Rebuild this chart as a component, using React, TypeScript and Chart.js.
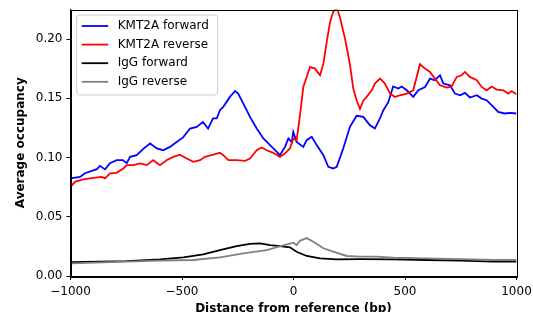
import React, { useEffect, useRef } from "react";
import { Chart, registerables } from "chart.js";

Chart.register(...registerables);

const xTicks = [-1000, -500, 0, 500, 1000];
const yTicks = [0, 0.05, 0.1, 0.15, 0.2];

const seriesLabels = ["KMT2A forward", "KMT2A reverse", "IgG forward", "IgG reverse"];
const seriesColors = ["#0000ff", "#ff0000", "#000000", "#808080"];

const kmtFwdPos = [-1000,-957,-935,-882,-868,-845,-823,-793,-765,-748,-733,-703,-675,-643,-613,-585,-554,-524,-495,-464,-434,-406,-383,-361,-344,-330,-315,-285,-262,-248,-225,-195,-165,-135,-105,-75,-61,-38,-23,-8,-1,14,44,59,82,104,134,156,178,194,223,253,283,313,343,365,388,403,425,447,470,485,508,537,560,590,612,634,657,672,702,724,747,769,791,822,844,866,896,918,948,971,1000];
const kmtFwdVal = [0.0824,0.0837,0.0868,0.0902,0.093,0.090,0.0953,0.0978,0.0978,0.0953,0.1006,0.102,0.1071,0.1119,0.1077,0.1062,0.109,0.1132,0.117,0.1245,0.1259,0.1301,0.1245,0.133,0.133,0.140,0.1428,0.1512,0.1562,0.154,0.1456,0.1343,0.1245,0.1161,0.1105,0.1048,0.102,0.109,0.1161,0.113,0.1217,0.1132,0.109,0.1147,0.1175,0.1105,0.102,0.0922,0.0908,0.0922,0.1077,0.126,0.1353,0.1343,0.1273,0.1245,0.1332,0.140,0.1467,0.160,0.1583,0.160,0.1568,0.1512,0.1568,0.1596,0.1667,0.1653,0.1695,0.1625,0.161,0.154,0.1526,0.1546,0.1507,0.1526,0.1498,0.1484,0.1428,0.1385,0.1372,0.1377,0.1372];

const kmtRevPos = [-1000,-980,-943,-898,-860,-845,-823,-793,-763,-748,-718,-688,-658,-629,-599,-569,-539,-509,-479,-449,-419,-397,-360,-330,-315,-292,-255,-217,-195,-165,-143,-120,-91,-61,-38,-16,-1,14,29,44,59,74,96,119,134,149,164,178,194,208,231,253,268,283,298,313,328,351,365,388,410,433,455,478,508,537,567,590,612,634,657,687,709,732,754,769,791,822,844,866,889,911,941,963,978,1000];
const kmtRevVal = [0.0753,0.0795,0.0815,0.0829,0.0837,0.0824,0.0866,0.0871,0.0908,0.0936,0.0936,0.095,0.0936,0.0978,0.0936,0.0978,0.1006,0.1024,0.0992,0.0964,0.0978,0.1006,0.1024,0.104,0.102,0.0978,0.0978,0.0972,0.0992,0.1062,0.1085,0.1062,0.104,0.1006,0.1035,0.1077,0.1161,0.1147,0.1357,0.1596,0.168,0.1765,0.1751,0.1695,0.1793,0.1976,0.2144,0.2229,0.2265,0.2186,0.2004,0.1788,0.1583,0.1484,0.141,0.148,0.1512,0.1568,0.1625,0.1667,0.1625,0.154,0.1512,0.1526,0.154,0.1568,0.1788,0.1751,0.1723,0.1667,0.161,0.1591,0.160,0.1681,0.1695,0.1723,0.1681,0.1653,0.1596,0.1568,0.160,0.1574,0.1568,0.154,0.1562,0.1535];

const iggFwdPos = [-1000,-748,-599,-494,-405,-330,-255,-195,-150,-105,-61,-16,14,59,119,194,298,447,597,747,896,1000];
const iggFwdVal = [0.0116,0.0126,0.0141,0.0158,0.0183,0.0219,0.0253,0.0272,0.0276,0.0261,0.0253,0.0242,0.0205,0.0169,0.0149,0.0141,0.0143,0.0141,0.0135,0.0129,0.0121,0.0121];

const iggRevPos = [-1000,-748,-599,-449,-330,-225,-120,-46,-1,14,29,59,89,134,178,239,298,373,447,597,747,896,1000];
const iggRevVal = [0.0107,0.0121,0.0129,0.0135,0.0158,0.0191,0.0219,0.0259,0.0281,0.0261,0.0298,0.032,0.0289,0.0234,0.0205,0.0169,0.0163,0.0163,0.0154,0.0149,0.0143,0.0135,0.0135];

const seriesPos = [kmtFwdPos, kmtRevPos, iggFwdPos, iggRevPos];
const seriesVal = [kmtFwdVal, kmtRevVal, iggFwdVal, iggRevVal];

const FONT = "'DejaVu Sans', 'Liberation Sans', sans-serif";

const framePlugin = {
  id: "frameAndLegend",
  afterDatasetsDraw(chart: any) {
    const { ctx, chartArea: ca } = chart;
    ctx.save();
    ctx.strokeStyle = "#000";
    ctx.lineWidth = 1;
    ctx.strokeRect(Math.round(ca.left) + 0.5, Math.round(ca.top) + 0.5, Math.round(ca.right - ca.left), Math.round(ca.bottom - ca.top));

    const lx = ca.left + 6.2;
    const ly = ca.top + 5.5;
    const lw = 141;
    const lh = 80;
    const r = 3;
    ctx.beginPath();
    ctx.moveTo(lx + r, ly);
    ctx.lineTo(lx + lw - r, ly);
    ctx.arcTo(lx + lw, ly, lx + lw, ly + r, r);
    ctx.lineTo(lx + lw, ly + lh - r);
    ctx.arcTo(lx + lw, ly + lh, lx + lw - r, ly + lh, r);
    ctx.lineTo(lx + r, ly + lh);
    ctx.arcTo(lx, ly + lh, lx, ly + lh - r, r);
    ctx.lineTo(lx, ly + r);
    ctx.arcTo(lx, ly, lx + r, ly, r);
    ctx.closePath();
    ctx.fillStyle = "rgba(255,255,255,0.8)";
    ctx.fill();
    ctx.strokeStyle = "#cccccc";
    ctx.lineWidth = 1;
    ctx.stroke();

    ctx.font = `12px ${FONT}`;
    ctx.textBaseline = "middle";
    ctx.textAlign = "left";
    seriesLabels.forEach((label, i) => {
      const y = ly + 11 + i * 18.6;
      ctx.strokeStyle = seriesColors[i];
      ctx.lineWidth = 1.8;
      ctx.beginPath();
      ctx.moveTo(lx + 5, y);
      ctx.lineTo(lx + 31.5, y);
      ctx.stroke();
      ctx.fillStyle = "#000";
      ctx.fillText(label, lx + 41, y);
    });
    ctx.restore();
  },
};

function fmtX(v: number) {
  return v < 0 ? "\u2212" + Math.abs(v) : String(v);
}

export default function App() {
  const ref = useRef<HTMLCanvasElement | null>(null);
  useEffect(() => {
    if (!ref.current) return;
    Chart.defaults.font.family = FONT;
    Chart.defaults.font.size = 12;
    Chart.defaults.color = "#000";
    const datasets = seriesLabels.map((label, i) => ({
      label,
      data: seriesPos[i].map((x, j) => ({ x, y: seriesVal[i][j] })),
      borderColor: seriesColors[i],
      backgroundColor: seriesColors[i],
      borderWidth: 1.8,
      pointRadius: 0,
      tension: 0,
      fill: false,
      order: 3 - i,
    }));
    const chart = new Chart(ref.current, {
      type: "line",
      data: { datasets },
      plugins: [framePlugin],
      options: {
        animation: false,
        responsive: false,
        devicePixelRatio: 1,
        layout: { padding: { top: 9.5, right: 16.5, left: 0, bottom: 0 } },
        plugins: { legend: { display: false }, tooltip: { enabled: false } },
        scales: {
          x: {
            type: "linear",
            min: -1000,
            max: 1000,
            afterFit: (s: any) => { s.height = 36; s.paddingLeft = 0; s.paddingRight = 0; },
            afterBuildTicks: (s: any) => { s.ticks = xTicks.map((v) => ({ value: v })); },
            ticks: { callback: (v: any) => fmtX(Number(v)), padding: 4.5, maxRotation: 0, autoSkip: false, font: { size: 12 } },
            grid: { display: true, drawOnChartArea: false, drawTicks: true, tickLength: 4, color: "#000", lineWidth: 1 },
            border: { display: true, color: "#000", width: 1 },
            title: { display: true, text: "Distance from reference (bp)", font: { size: 12, weight: "bold" }, padding: { top: 0, bottom: -4.5 } },
          },
          y: {
            type: "linear",
            min: 0,
            max: 0.225,
            afterFit: (s: any) => { s.width = 70.5; s.paddingTop = 0; s.paddingBottom = 0; },
            afterBuildTicks: (s: any) => { s.ticks = yTicks.map((v) => ({ value: v })); },
            ticks: { callback: (v: any) => Number(v).toFixed(2), padding: 4, autoSkip: false, font: { size: 12 } },
            grid: { display: true, drawOnChartArea: false, drawTicks: true, tickLength: 4, color: "#000", lineWidth: 1 },
            border: { display: true, color: "#000", width: 1 },
            title: { display: true, text: "Average occupancy", font: { size: 12, weight: "bold" }, padding: { top: 14, bottom: 0 } },
          },
        },
      },
    });
    return () => chart.destroy();
  }, []);
  return (
    <div style={{ position: "absolute", left: 0, top: 0, width: 533, height: 312 }}>
      <canvas ref={ref} width={533} height={312} style={{ display: "block" }} />
    </div>
  );
}
